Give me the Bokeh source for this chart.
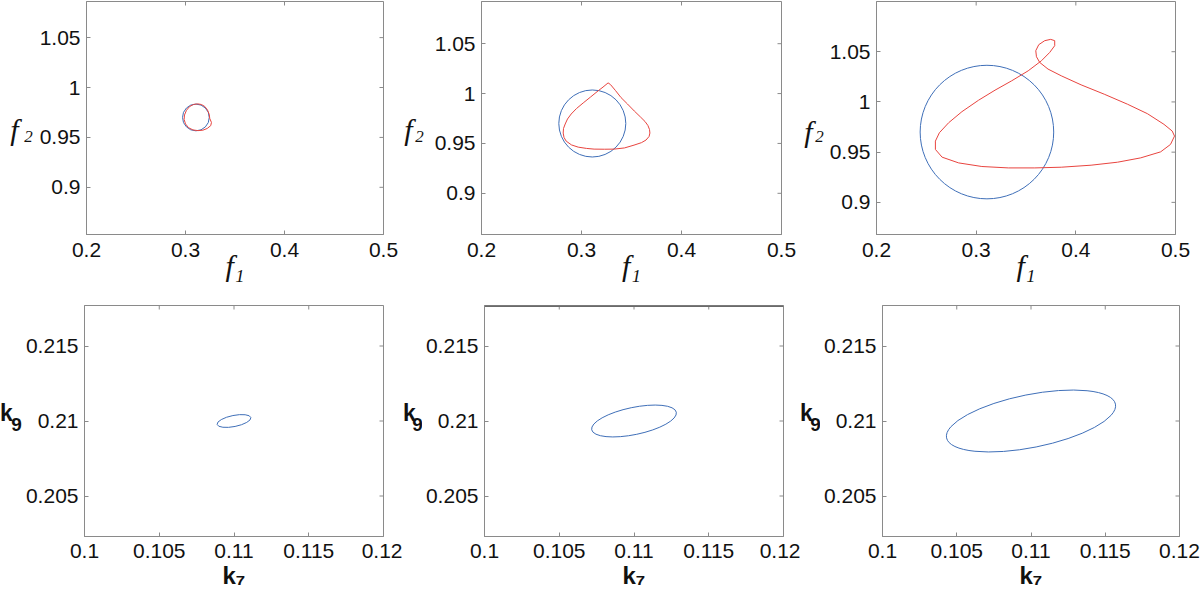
import math
from bokeh.plotting import figure
from bokeh.models import Range1d, FixedTicker, PrintfTickFormatter
from bokeh.layouts import column, row
from bokeh.core.properties import value
from bokeh.embed import file_html
from bokeh.resources import INLINE

# ---------------- data ----------------
f1_ticks = [0.2, 0.3, 0.4, 0.5]
f2_ticks = [0.9, 0.95, 1.0, 1.05]
k7_ticks = [0.1, 0.105, 0.11, 0.115, 0.12]
k9_ticks = [0.205, 0.21, 0.215]

f1_range = (0.2, 0.5)
f2_ranges = [(0.8527, 1.0862), (0.8587, 1.0923), (0.868, 1.100)]
k7_range = (0.1, 0.12)
k9_range = (0.2023, 0.2177)

circle_f1 = [0.3105, 0.3108, 0.3108]
circle_f2 = [0.970, 0.970, 0.970]
circle_r = [0.0135, 0.0335, 0.067]

red1_f1 = [0.3123, 0.3080, 0.3040, 0.3010, 0.2990, 0.2986, 0.3000, 0.3030, 0.3075, 0.3125,
           0.3175, 0.3220, 0.3255, 0.3262, 0.3245, 0.3240, 0.3222, 0.3195, 0.3160, 0.3123]
red1_f2 = [0.9836, 0.9830, 0.9808, 0.9772, 0.9725, 0.9680, 0.9635, 0.9598, 0.9575, 0.9568,
           0.9572, 0.9590, 0.9618, 0.9650, 0.9690, 0.9730, 0.9775, 0.9810, 0.9830, 0.9836]

red2_f1 = [0.3266, 0.3215, 0.3166, 0.3090, 0.3017, 0.2950, 0.2897, 0.2860, 0.2837, 0.2820,
           0.2817, 0.2825, 0.2847, 0.2900, 0.2967, 0.3050, 0.3126, 0.3230, 0.3326, 0.3430,
           0.3525, 0.3600, 0.3645, 0.3676, 0.3684, 0.3680, 0.3664, 0.3635, 0.3590, 0.3528,
           0.3460, 0.3395, 0.3340, 0.3290, 0.3266]
red2_f2 = [1.0107, 1.0065, 1.0027, 0.9965, 0.9906, 0.9850, 0.9795, 0.9745, 0.9695, 0.9650,
           0.9604, 0.9560, 0.9523, 0.9485, 0.9463, 0.9450, 0.9443, 0.9442, 0.9443, 0.9455,
           0.9483, 0.9508, 0.9534, 0.9570, 0.9604, 0.9640, 0.9680, 0.9720, 0.9765, 0.9825,
           0.9895, 0.9960, 1.0030, 1.0090, 1.0107]

red3_f1 = [0.4990, 0.4950, 0.4851, 0.4651, 0.4419, 0.4153, 0.3854, 0.3588, 0.3323, 0.3057,
           0.2824, 0.2658, 0.2591, 0.2591, 0.2631, 0.2724, 0.2857, 0.3024, 0.3189, 0.3356,
           0.3522, 0.3655, 0.3738, 0.3788, 0.3788, 0.3748, 0.3688, 0.3628, 0.3598, 0.3605,
           0.3638, 0.3721, 0.3854, 0.4053, 0.4285, 0.4519, 0.4718, 0.4884, 0.4967, 0.4990]
red3_f2 = [0.9660, 0.9577, 0.9503, 0.9443, 0.9400, 0.9370, 0.9350, 0.9343, 0.9343, 0.9357,
           0.9393, 0.9450, 0.9527, 0.9610, 0.9693, 0.9793, 0.9903, 1.0017, 1.0117, 1.0210,
           1.0310, 1.0410, 1.0493, 1.0560, 1.0610, 1.0623, 1.0610, 1.0570, 1.0510, 1.0450,
           1.0393, 1.0327, 1.0260, 1.0170, 1.0077, 0.9977, 0.9883, 0.9777, 0.9710, 0.9660]

red_f1 = [red1_f1, red2_f1, red3_f1]
red_f2 = [red1_f2, red2_f2, red3_f2]

ell_k7 = [0.110, 0.110, 0.110]
ell_k9 = [0.210, 0.210, 0.210]
ell_w = [0.00230, 0.00578, 0.01160]
ell_h = [0.00074, 0.00181, 0.00353]
ell_angle = [0.20, 0.205, 0.197]

# ---------------- style ----------------
FRAME = "#8a8a8a"
BLUE = "#3f6fb8"
RED = "#e8443f"
TXT = "#111111"

H1, H2 = 293, 308


def make_fig(width, height, bl, br, bt, bb, xr, yr):
    p = figure(width=width, height=height, x_range=Range1d(*xr), y_range=Range1d(*yr),
               output_backend="svg", toolbar_location=None, title=None,
               min_border_left=bl, min_border_right=br, min_border_top=bt, min_border_bottom=bb)
    p.xgrid.visible = False
    p.ygrid.visible = False
    p.outline_line_color = FRAME
    p.background_fill_color = "white"
    p.border_fill_color = "white"
    return p


def style_axis(ax, ticks, standoff):
    ax.ticker = FixedTicker(ticks=ticks)
    ax.formatter = PrintfTickFormatter(format="%g")
    ax.axis_line_color = FRAME
    ax.major_tick_line_color = FRAME
    ax.major_tick_in = 4
    ax.major_tick_out = 0
    ax.minor_tick_line_color = None
    ax.minor_tick_in = 0
    ax.minor_tick_out = 0
    ax.major_label_text_font = "Liberation Sans"
    ax.major_label_text_font_size = "21px"
    ax.major_label_text_color = TXT
    ax.major_label_standoff = standoff


def inner_ticks(p, xt, yt, xr, yr):
    # MATLAB-style inward ticks on the top and right edges (half of each dash is clipped by the frame)
    p.scatter(x=xt, y=[yr[1]] * len(xt), marker="dash", size=8, angle=math.pi / 2,
              line_color=FRAME, line_width=1)
    p.scatter(x=[xr[1]] * len(yt), y=yt, marker="dash", size=8, angle=0,
              line_color=FRAME, line_width=1)


def label_fig(width, height, main, sub, font, main_size, sub_size, style):
    q = figure(width=width, height=height, x_range=Range1d(0, width), y_range=Range1d(0, height),
               output_backend="svg", toolbar_location=None, title=None,
               x_axis_type=None, y_axis_type=None,
               min_border_left=0, min_border_right=0, min_border_top=0, min_border_bottom=0)
    q.outline_line_color = None
    q.background_fill_color = "white"
    q.border_fill_color = "white"
    q.text(x=[main[0]], y=[main[1]], text=[main[2]], text_font=value(font),
           text_font_size=value(main_size), text_font_style=value(style), text_color=TXT,
           text_align="center", text_baseline="alphabetic")
    q.text(x=[sub[0]], y=[sub[1]], text=[sub[2]], text_font=value(font),
           text_font_size=value(sub_size), text_font_style=value(style), text_color=TXT,
           text_align="center", text_baseline="alphabetic")
    return q


# top row: (label width, f x, sub x, f baseline, sub baseline), (fig width, left, right)
top_lab = [(36, 14, 28, H1 - 161, H1 - 170), (32, 10, 21, H1 - 161, H1 - 170), (29, 11, 22, H1 - 163, H1 - 170)]
top_geom = [(362, 47, 15), (367, 51, 16), (374, 49, 25)]
bot_lab = [(22, 6, 16, H2 - 143, H2 - 158), (20, 7, 15, H2 - 143, H2 - 158), (20, 6, 15, H2 - 143, H2 - 158)]
bot_geom = [(380, 61, 19), (378, 61, 17), (380, 59, 21)]

top_items = []
for i in range(3):
    lw, fx, sx, fy, sy = top_lab[i]
    top_items.append(label_fig(lw, H1, (fx, fy, "f"), (sx, sy, "2"), "Liberation Serif",
                               "30px", "17px", "italic"))
    w, bl, br = top_geom[i]
    p = make_fig(w, H1, bl, br, 1, 59, f1_range, f2_ranges[i])
    style_axis(p.xaxis[0], f1_ticks, 8)
    style_axis(p.yaxis[0], f2_ticks, 6)
    p.xaxis[0].axis_label = "f\u2081"
    p.xaxis[0].axis_label_text_font = "Liberation Serif"
    p.xaxis[0].axis_label_text_font_style = "italic"
    p.xaxis[0].axis_label_text_font_size = "30px"
    p.xaxis[0].axis_label_text_color = TXT
    p.xaxis[0].axis_label_standoff = -11
    inner_ticks(p, f1_ticks, f2_ticks, f1_range, f2_ranges[i])
    p.circle(x=[circle_f1[i]], y=[circle_f2[i]], radius=circle_r[i],
             fill_color=None, line_color=BLUE, line_width=1)
    p.line(red_f1[i], red_f2[i], line_color=RED, line_width=1)
    top_items.append(p)

bot_items = []
for i in range(3):
    lw, kx, sx, ky, sy = bot_lab[i]
    bot_items.append(label_fig(lw, H2, (kx, ky, "k"), (sx, sy, "9"), "Liberation Sans",
                               "23px", "19px", "bold"))
    w, bl, br = bot_geom[i]
    p = make_fig(w, H2, bl, br, 12, 65, k7_range, k9_range)
    style_axis(p.xaxis[0], k7_ticks, 7)
    style_axis(p.yaxis[0], k9_ticks, 6)
    p.xaxis[0].axis_label = "k\u2087"
    p.xaxis[0].axis_label_text_font = "Liberation Sans"
    p.xaxis[0].axis_label_text_font_style = "bold"
    p.xaxis[0].axis_label_text_font_size = "24px"
    p.xaxis[0].axis_label_text_color = TXT
    p.xaxis[0].axis_label_standoff = 1
    inner_ticks(p, k7_ticks, k9_ticks, k7_range, k9_range)
    if i == 1:
        # the darker top border seen on the middle panel of the lower row
        p.segment(x0=[k7_range[0]], x1=[k7_range[1]], y0=[k9_range[1]], y1=[k9_range[1]],
                  line_color="#6a6a6a", line_width=3)
    p.ellipse(x=[ell_k7[i]], y=[ell_k9[i]], width=[ell_w[i]], height=[ell_h[i]],
              angle=[ell_angle[i]], fill_color=None, line_color=BLUE, line_width=1)
    bot_items.append(p)

layout = column(row(*top_items, spacing=0), row(*bot_items, spacing=0), spacing=0)

open("out.html", "w").write(file_html(layout, INLINE))
